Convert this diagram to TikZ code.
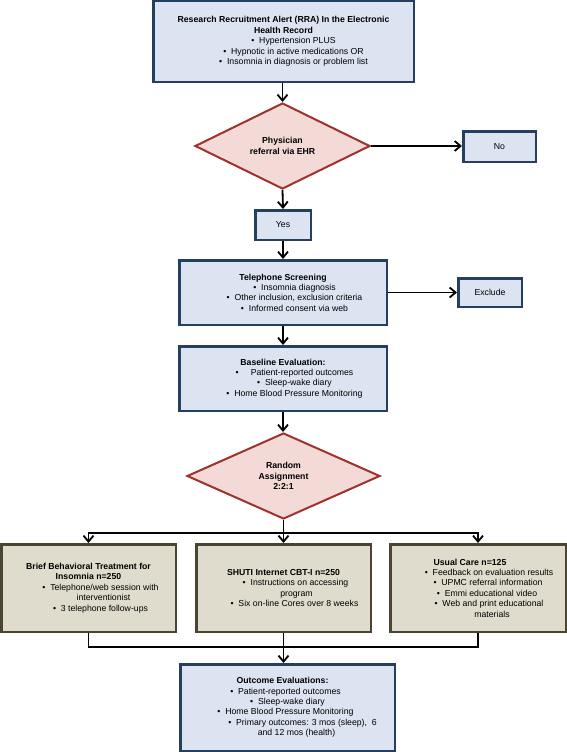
\documentclass[tikz,border=0pt]{standalone}
\usepackage{fontspec}
\setmainfont{Liberation Sans}
\usetikzlibrary{shapes.geometric,arrows.meta}
\definecolor{bluefill}{HTML}{DCE3F1}
\definecolor{blueline}{HTML}{243F60}
\definecolor{beigefill}{HTML}{DFDCCD}
\definecolor{beigeline}{HTML}{4A4431}
\definecolor{redfill}{HTML}{F3DAD7}
\definecolor{redline}{HTML}{A0322C}
\newcommand{\bul}{\textbullet\ \ }
\newcommand{\ind}[1]{\leavevmode\kern#1pt\relax}
\tikzset{
  boxtext/.style={inner sep=0pt, align=center, font=\fontsize{8.7}{10.4}\selectfont},
  bluebox/.style={boxtext, draw=blueline, fill=bluefill, line width=2.5pt},
  beigebox/.style={boxtext, draw=beigeline, fill=beigefill, line width=2.5pt},
  decision/.style={diamond, draw=redline, fill=redfill, line width=2pt, inner sep=0pt, align=center, font=\fontsize{8.7}{10.4}\selectfont\bfseries},
  conn/.style={line width=1.8pt, -{Straight Barb[length=6pt,width=10pt,line width=1.8pt]}},
  link/.style={line width=1.8pt}
}
\begin{document}
\begin{tikzpicture}[x=1pt,y=-1pt]
\useasboundingbox (0,0) rectangle (567,752);
\fill[white] (0,0) rectangle (567,752);

\node[bluebox, minimum width=260.5pt, minimum height=80.5pt] (rra) at (283.5,41.5)
  {\textbf{Research Recruitment Alert (RRA) In the Electronic}\\
   \textbf{Health Record}\\
   \ind{20}\bul Hypertension PLUS\\
   \ind{20}\bul Hypnotic in active medications OR\\
   \ind{20}\bul Insomnia in diagnosis or problem list};

\node[decision, minimum width=175pt, minimum height=86pt] (phys) at (282.5,146)
  {Physician\\referral via EHR};

\node[bluebox, minimum width=72.5pt, minimum height=30.5pt] (no) at (499.5,146.5) {No};

\node[bluebox, minimum width=55.5pt, minimum height=29.5pt] (yes) at (283,225) {Yes};

\node[bluebox, minimum width=207.5pt, minimum height=64.5pt] (tel) at (283,292.5)
  {\textbf{Telephone Screening}\\
   \ind{23}\bul Insomnia diagnosis\\
   \ind{23}\bul Other inclusion, exclusion criteria\\
   \ind{23}\bul Informed consent via web};

\node[bluebox, minimum width=63.5pt, minimum height=28.5pt] (excl) at (490,292.5) {Exclude};

\node[bluebox, minimum width=207.5pt, minimum height=64.5pt] (base) at (283,378.5)
  {\textbf{Baseline Evaluation:}\\
   \ind{23}\bul\ \ \ Patient-reported outcomes\\
   \ind{23}\bul Sleep-wake diary\\
   \ind{23}\bul Home Blood Pressure Monitoring};

\node[decision, minimum width=193pt, minimum height=86pt] (rand) at (283.5,476)
  {Random\\Assignment\\2:2:1};

\node[beigebox, minimum width=174.5pt, minimum height=87.5pt] (bbti) at (88.5,588)
  {\textbf{Brief Behavioral Treatment for}\\
   \textbf{Insomnia n=250}\\
   \ind{24}\bul Telephone/web session with\\
   \ind{30}interventionist\\
   \ind{24}\bul 3 telephone follow-ups};

\node[beigebox, minimum width=174.5pt, minimum height=87.5pt] (shuti) at (283.5,588)
  {\textbf{SHUTI Internet CBT-I n=250}\\
   \ind{24}\bul Instructions on accessing\\
   \ind{26}program\\
   \ind{22}\bul Six on-line Cores over 8 weeks};

\node[beigebox, minimum width=175.5pt, minimum height=87.5pt] (usual) at (478,588)
  {\ind{-16}\textbf{Usual Care n=125}\\
   \ind{22}\bul Feedback on evaluation results\\
   \ind{20}\bul UPMC referral information\\
   \ind{18}\bul Emmi educational video\\
   \ind{22}\bul Web and print educational\\
   \ind{28}materials};

\node[bluebox, minimum width=214.5pt, minimum height=86.5pt] (outc) at (287.5,707.5)
  {\ind{-10}\textbf{Outcome Evaluations:}\\
   \ind{-4}\bul Patient-reported outcomes\\
   \bul Sleep-wake diary\\
   \ind{-4}\bul Home Blood Pressure Monitoring\\
   \ind{30}\bul Primary outcomes: 3 mos (sleep),\ \ 6\\
   \ind{18}and 12 mos (health)};

\coordinate (split) at (283.5,533);
\coordinate (merge) at (283.5,647);

\draw[conn] (rra.south -| phys.north) -- (phys.north);
\draw[conn] (phys.east) -- (phys.east -| no.west);
\draw[conn] (phys.south) -- (yes.north);
\draw[conn] (yes.south) -- (tel.north);
\draw[conn] (tel.east |- excl.west) -- (excl.west);
\draw[conn] (tel.south) -- (base.north);
\draw[conn] (base.south) -- (base.south |- rand.north);
\draw[conn] (rand.south) -- (shuti.north);
\draw[conn] (split) -| (bbti.north);
\draw[conn] (split) -| (usual.north);
\draw[link] (bbti.south) |- (merge);
\draw[link] (usual.south) |- (merge);
\draw[conn] (shuti.south) -- (shuti.south |- outc.north);
\end{tikzpicture}
\end{document}
